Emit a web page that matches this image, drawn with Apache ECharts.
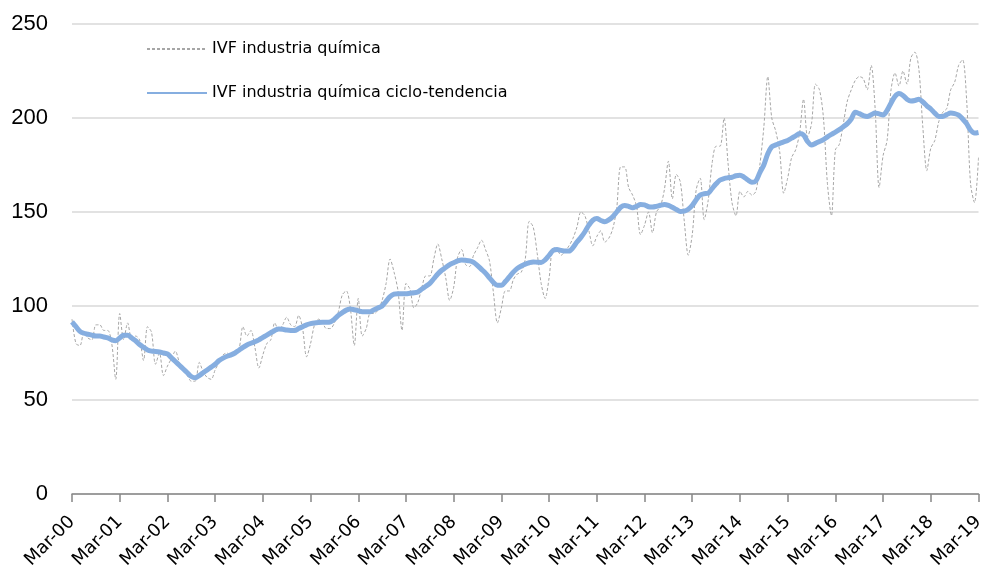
<!DOCTYPE html>
<html>
<head>
<meta charset="utf-8">
<script src="https://cdn.jsdelivr.net/npm/echarts@6/dist/echarts.min.js"></script>
<style>
  html, body { margin: 0; padding: 0; background: #fff; }
  #chart { width: 987px; height: 580px; }
</style>
</head>
<body>
<div id="chart"></div>
<script>
// meses (serie mensual desde marzo 2000)
const monthNames = ["Jan", "Feb", "Mar", "Apr", "May", "Jun", "Jul", "Aug", "Sep", "Oct", "Nov", "Dec"];
const startYear = 2000;
const startMonth = 2;

const yTicks = [0, 50, 100, 150, 200, 250];

const ivf = [
  93, 80, 79, 86, 83, 82, 90, 90, 87, 87, 80, 61,
  96, 82, 91, 83, 84, 82, 71, 89, 86, 69, 75, 63,
  68, 72, 76, 70, 66, 63, 60, 60, 70, 65, 62, 61,
  66, 70, 74, 75, 73, 75, 77, 89, 84, 87, 78, 67,
  74, 80, 82, 91, 87, 90, 94, 90, 89, 95, 88, 73,
  80, 90, 93, 91, 88, 88, 91, 97, 106, 108, 99, 79,
  104, 84, 88, 96, 96, 98, 103, 112, 125, 118, 108, 87,
  112, 109, 99, 102, 110, 116, 116, 125, 133, 125, 115, 103,
  110, 126, 130, 122, 121, 127, 131, 135, 130, 124, 107, 91,
  99, 108, 108, 114, 117, 118, 125, 145, 142, 128, 112, 104,
  115, 131, 130, 127, 129, 132, 136, 142, 150, 148, 140, 132,
  137, 140, 134, 136, 141, 152, 174, 174, 163, 159, 153, 138,
  143, 150, 139, 150, 153, 162, 177, 157, 170, 166, 145, 127,
  138, 162, 168, 146, 156, 176, 185, 185, 200, 176, 155, 148,
  161, 158, 161, 159, 161, 175, 195, 222, 200, 193, 182, 160,
  168, 179, 183, 192, 210, 190, 197, 218, 215, 200, 165, 148,
  183, 186, 197, 209, 215, 220, 222, 221, 215, 228, 205, 163,
  180, 188, 215, 224, 217, 225, 218, 232, 235, 226, 195, 172,
  184, 188, 198, 203, 205, 215, 219, 228, 231, 210, 165, 155,
  179
];

const tendencia = [
  91.5, 89, 86.5, 85.5, 85, 84.5, 84, 84, 83.5, 83, 82, 81.5,
  83, 84.5, 84.5, 83, 81.5, 79.5, 78, 76.6, 76, 75.8, 75.5, 75,
  74.5, 72.5, 70.5, 68.5, 66.5, 64.5, 62.5, 61.8, 63, 64.5, 66, 67.5,
  69, 71, 72.3, 73.3, 74, 75, 76.5, 78, 79.3, 80.2, 81, 82,
  83.3, 84.5, 85.8, 87, 87.8, 87.6, 87.2, 87, 87, 88, 89, 90,
  90.6, 91, 91.2, 91.3, 91.3, 91.5, 93, 95, 96.5, 97.8, 98.4, 98,
  97.5, 97, 97, 97, 98, 99, 100, 102.5, 105, 106.3, 106.5, 106.5,
  106.5, 106.8, 107, 107.5, 109, 110.5, 112, 114.5, 117, 119, 120.5, 122,
  123, 124, 124.5, 124.3, 124, 123.2, 121.5, 119.5, 117.5, 115, 112.5, 111,
  111, 113, 115.5, 118, 120, 121.3, 122.3, 123, 123.4, 123.3, 123.2, 124.5,
  127, 129.5, 130, 129.6, 129.2, 129.2, 131, 134, 136.5, 139.5, 143, 145.6,
  146.5, 145.5, 144.8, 145.8, 147.5, 150, 152.5, 153.5, 153, 152.2, 153, 154,
  153.8, 152.8, 152.6, 153, 153.6, 154, 153.5, 152.5, 151.3, 150.3, 150.5, 151.5,
  153.5, 156.5, 159, 159.7, 160, 162.5, 165, 167, 167.8, 168.2, 168.5, 169.3,
  169.6, 168.6, 167, 165.8, 166.5, 171, 175, 181, 184.7, 185.7, 186.5, 187.3,
  188, 189.3, 190.5, 191.8, 191, 187.5, 185.6, 186.5, 187.5, 188.5, 190, 191.3,
  192.5, 193.8, 195.3, 197, 199.5, 203, 202.3, 201.3, 200.8, 201.7, 202.6, 202.2,
  201.6, 204, 208, 211.5, 213, 212, 210, 209, 209.3, 210, 208.5, 206.5,
  204.8, 202.6, 200.8, 200.8, 201.8, 202.6, 202.3, 201.5, 199.5, 197, 193.5, 192,
  192.3
];

const categories = ivf.map((_, i) => {
  const m = startMonth + i;
  const yy = (startYear + Math.floor(m / 12)) % 100;
  return monthNames[m % 12] + "-" + String(yy).padStart(2, "0");
});

const chart = echarts.init(document.getElementById("chart"), null, { renderer: "canvas" });

chart.setOption({
  animation: false,
  grid: { left: 72, right: 2, top: 24, bottom: 86 },
  legend: {
    orient: "vertical",
    left: 141,
    top: 36,
    itemGap: 28,
    itemWidth: 60,
    itemHeight: 20,
    itemStyle: { color: "rgba(0,0,0,0)", borderWidth: 0 },
    textStyle: { fontFamily: "DejaVu Sans", fontSize: 16, color: "#000", padding: [0, 0, 0, 0] },
    data: ["IVF industria química", "IVF industria química ciclo-tendencia"]
  },
  xAxis: {
    type: "category",
    boundaryGap: false,
    data: categories,
    axisLine: { lineStyle: { color: "#868686", width: 1.5 } },
    axisTick: { interval: 11, length: 8, lineStyle: { color: "#868686", width: 1.5 } },
    axisLabel: {
      interval: 11,
      rotate: 45,
      margin: 25,
      fontFamily: "DejaVu Sans",
      fontSize: 18,
      color: "#000"
    }
  },
  yAxis: {
    type: "value",
    min: yTicks[0],
    max: yTicks[yTicks.length - 1],
    interval: 50,
    axisLine: { show: false },
    axisTick: { show: false },
    axisLabel: {
      margin: 24,
      fontFamily: "Liberation Sans",
      fontSize: 22,
      color: "#000",
      padding: [0, 0, 6, 0]
    },
    splitLine: { lineStyle: { color: "#d9d9d9", width: 1.5 } }
  },
  series: [
    {
      name: "IVF industria química",
      type: "line",
      data: ivf,
      symbol: "none",
      smooth: 0.3,
      lineStyle: { color: "#a6a6a6", width: 1, type: [3, 2] },
      itemStyle: { color: "#a6a6a6" },
      z: 2
    },
    {
      name: "IVF industria química ciclo-tendencia",
      type: "line",
      data: tendencia,
      symbol: "none",
      smooth: 0.3,
      lineStyle: { color: "#86aee0", width: 5 },
      itemStyle: { color: "#86aee0" },
      z: 3
    }
  ]
});
</script>
</body>
</html>
